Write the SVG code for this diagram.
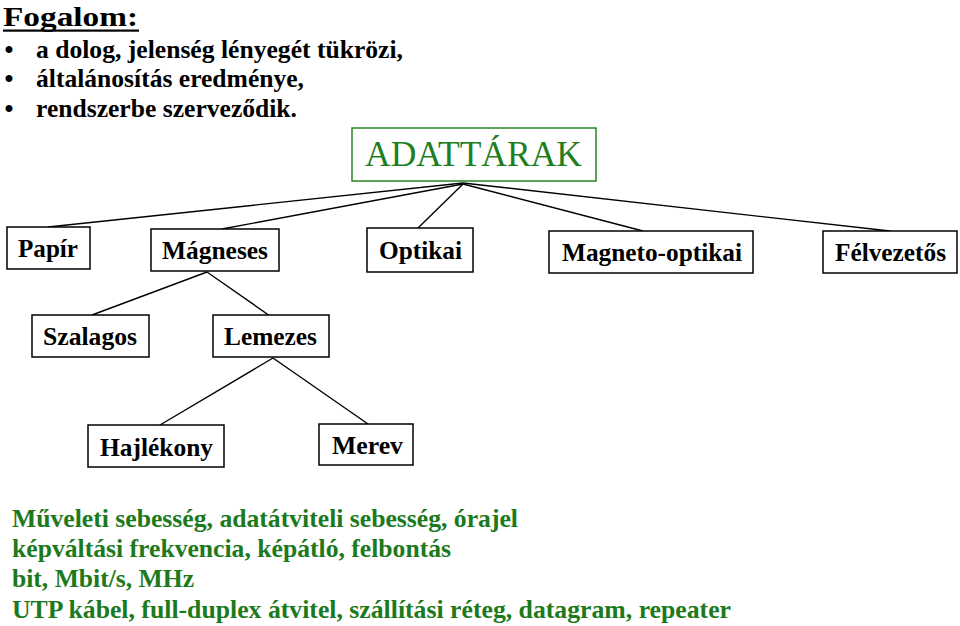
<svg xmlns="http://www.w3.org/2000/svg" width="960" height="626" viewBox="0 0 960 626">
<style>
  .t { font-family: 'Liberation Serif', 'DejaVu Serif', 'Noto Serif', serif; }
  .box { fill: #ffffff; stroke: #000000; stroke-width: 1.5; }
  .rootbox { fill: #ffffff; stroke: #268426; stroke-width: 1.5; }
  .lbl { font-size: 25px; font-weight: bold; fill: #000000; text-anchor: middle; }
  .root { font-size: 35px; fill: #1f7f1f; text-anchor: middle; }
  .bul { font-size: 25.5px; font-weight: bold; fill: #000000; }
  .green { font-size: 25px; font-weight: bold; fill: #1c7a1c; }
  .conn line { stroke: #000000; stroke-width: 1.4; }
</style>
<rect width="960" height="626" fill="#ffffff"/>

<g id="intro">
  <text class="t" x="3" y="26" font-size="28" font-weight="bold" textLength="135" lengthAdjust="spacingAndGlyphs">Fogalom:</text>
  <rect x="3" y="29.5" width="136" height="2.2" fill="#000000"/>
  <text class="t bul" x="9" y="58" text-anchor="middle">•</text>
  <text class="t bul" x="36" y="58" textLength="367" lengthAdjust="spacingAndGlyphs">a dolog, jelenség lényegét tükrözi,</text>
  <text class="t bul" x="9" y="87" text-anchor="middle">•</text>
  <text class="t bul" x="36" y="87" textLength="268" lengthAdjust="spacingAndGlyphs">általánosítás eredménye,</text>
  <text class="t bul" x="9" y="117" text-anchor="middle">•</text>
  <text class="t bul" x="36" y="117" textLength="261" lengthAdjust="spacingAndGlyphs">rendszerbe szerveződik.</text>
</g>

<g id="connectors" class="conn">
  <line x1="463" y1="183" x2="48" y2="227"/>
  <line x1="463" y1="184" x2="222" y2="229"/>
  <line x1="463" y1="184" x2="418" y2="228"/>
  <line x1="463" y1="184" x2="643" y2="231"/>
  <line x1="463" y1="183" x2="890" y2="231"/>
  <line x1="207" y1="272" x2="92" y2="315"/>
  <line x1="207" y1="272" x2="270" y2="316"/>
  <line x1="273" y1="358" x2="160" y2="425"/>
  <line x1="273" y1="358" x2="368" y2="424"/>
</g>

<g id="node-adattarak">
  <rect class="rootbox" x="352" y="128" width="244" height="53"/>
  <text class="t root" x="473.5" y="166" textLength="217" lengthAdjust="spacingAndGlyphs">ADATTÁRAK</text>
</g>
<g id="node-papir">
  <rect class="box" x="7" y="227" width="83" height="42"/>
  <text class="t lbl" x="48" y="257" textLength="60" lengthAdjust="spacingAndGlyphs">Papír</text>
</g>
<g id="node-magneses">
  <rect class="box" x="151" y="229" width="128" height="42"/>
  <text class="t lbl" x="215" y="259" textLength="106" lengthAdjust="spacingAndGlyphs">Mágneses</text>
</g>
<g id="node-optikai">
  <rect class="box" x="367" y="228" width="106" height="44"/>
  <text class="t lbl" x="420.5" y="259" textLength="83" lengthAdjust="spacingAndGlyphs">Optikai</text>
</g>
<g id="node-magneto-optikai">
  <rect class="box" x="549" y="231" width="204" height="42"/>
  <text class="t lbl" x="652" y="261" textLength="180" lengthAdjust="spacingAndGlyphs">Magneto-optikai</text>
</g>
<g id="node-felvezetos">
  <rect class="box" x="823" y="231" width="134" height="42"/>
  <text class="t lbl" x="890.5" y="261" textLength="111" lengthAdjust="spacingAndGlyphs">Félvezetős</text>
</g>
<g id="node-szalagos">
  <rect class="box" x="32" y="315" width="117" height="42"/>
  <text class="t lbl" x="90" y="345" textLength="94" lengthAdjust="spacingAndGlyphs">Szalagos</text>
</g>
<g id="node-lemezes">
  <rect class="box" x="213" y="315" width="116" height="42"/>
  <text class="t lbl" x="270.5" y="345" textLength="93" lengthAdjust="spacingAndGlyphs">Lemezes</text>
</g>
<g id="node-hajlekony">
  <rect class="box" x="88" y="425" width="136" height="42"/>
  <text class="t lbl" x="156.5" y="456" textLength="113" lengthAdjust="spacingAndGlyphs">Hajlékony</text>
</g>
<g id="node-merev">
  <rect class="box" x="319" y="424" width="94" height="41"/>
  <text class="t lbl" x="367.5" y="454" textLength="71" lengthAdjust="spacingAndGlyphs">Merev</text>
</g>

<g id="notes">
  <text class="t green" x="12" y="527" textLength="506" lengthAdjust="spacingAndGlyphs">Műveleti sebesség, adatátviteli sebesség, órajel</text>
  <text class="t green" x="12" y="557" textLength="439" lengthAdjust="spacingAndGlyphs">képváltási frekvencia, képátló, felbontás</text>
  <text class="t green" x="12" y="587" textLength="182" lengthAdjust="spacingAndGlyphs">bit, Mbit/s, MHz</text>
  <text class="t green" x="12" y="618" textLength="719" lengthAdjust="spacingAndGlyphs">UTP kábel, full-duplex átvitel, szállítási réteg, datagram, repeater</text>
</g>
</svg>
